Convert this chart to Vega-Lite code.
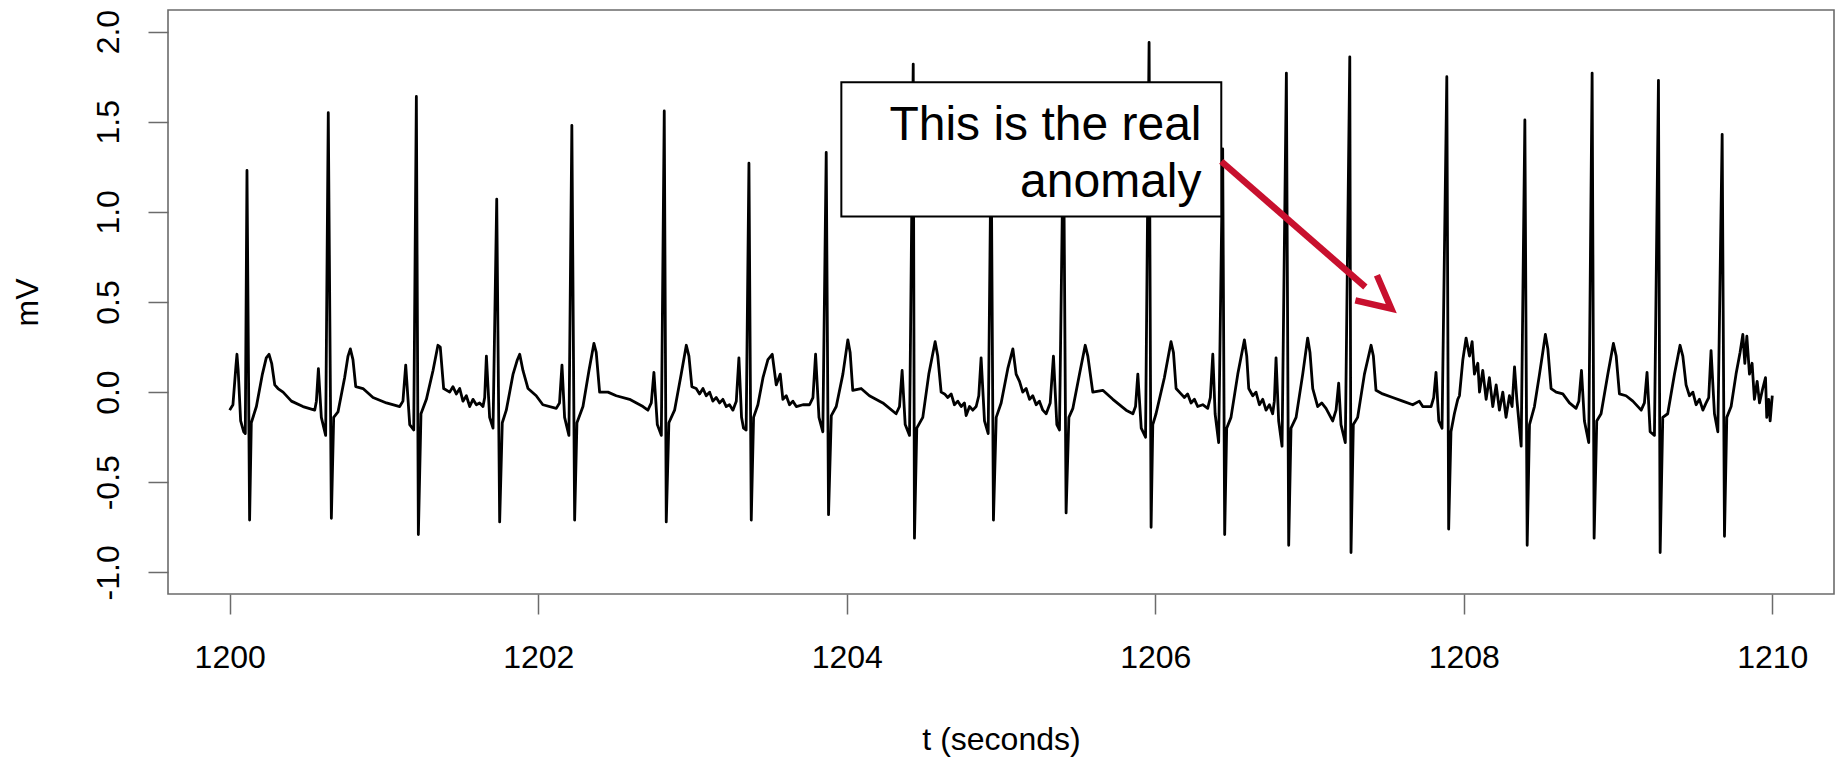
{
  "$schema": "https://vega.github.io/schema/vega-lite/v6.json",
  "width": 1666,
  "height": 584,
  "autosize": {"type": "none"},
  "padding": {"left": 168, "top": 10, "right": 7, "bottom": 165},
  "background": "white",
  "config": {
    "view": {"stroke": "#6b6b6b", "strokeWidth": 1.6},
    "font": "Liberation Sans"
  },
  "datasets": {
    "ecg": [
      {"t":1200.000,"v":-0.10},{"t":1200.021,"v":-0.07},{"t":1200.040,"v":0.14},{"t":1200.047,"v":0.21},{"t":1200.055,"v":0.12},{"t":1200.071,"v":-0.16},{"t":1200.091,"v":-0.22},{"t":1200.101,"v":-0.23},{"t":1200.112,"v":1.23},{"t":1200.129,"v":-0.71},{"t":1200.140,"v":-0.17},{"t":1200.173,"v":-0.08},{"t":1200.212,"v":0.10},{"t":1200.237,"v":0.19},{"t":1200.255,"v":0.21},{"t":1200.272,"v":0.16},{"t":1200.292,"v":0.04},{"t":1200.313,"v":0.02},{"t":1200.346,"v":0.0},{"t":1200.400,"v":-0.05},{"t":1200.475,"v":-0.08},{"t":1200.551,"v":-0.10},
      {"t":1200.562,"v":-0.05},{"t":1200.575,"v":0.13},{"t":1200.594,"v":-0.14},{"t":1200.622,"v":-0.24},{"t":1200.639,"v":1.55},{"t":1200.659,"v":-0.70},{"t":1200.674,"v":-0.14},{"t":1200.702,"v":-0.11},{"t":1200.745,"v":0.08},{"t":1200.767,"v":0.20},{"t":1200.782,"v":0.24},{"t":1200.799,"v":0.18},{"t":1200.817,"v":0.03},{"t":1200.864,"v":0.02},{"t":1200.929,"v":-0.03},{"t":1201.016,"v":-0.06},{"t":1201.102,"v":-0.08},
      {"t":1201.123,"v":-0.05},{"t":1201.141,"v":0.15},{"t":1201.167,"v":-0.18},{"t":1201.193,"v":-0.21},{"t":1201.210,"v":1.64},{"t":1201.223,"v":-0.79},{"t":1201.240,"v":-0.12},{"t":1201.275,"v":-0.04},{"t":1201.318,"v":0.12},{"t":1201.350,"v":0.26},{"t":1201.365,"v":0.25},{"t":1201.387,"v":0.02},{"t":1201.426,"v":0.0},{"t":1201.447,"v":0.03},{"t":1201.469,"v":-0.01},{"t":1201.491,"v":0.02},{"t":1201.512,"v":-0.05},{"t":1201.534,"v":-0.02},{"t":1201.556,"v":-0.08},{"t":1201.577,"v":-0.04},{"t":1201.599,"v":-0.07},{"t":1201.620,"v":-0.06},{"t":1201.642,"v":-0.08},
      {"t":1201.653,"v":-0.03},{"t":1201.664,"v":0.20},{"t":1201.685,"v":-0.14},{"t":1201.707,"v":-0.20},{"t":1201.731,"v":1.07},{"t":1201.750,"v":-0.72},{"t":1201.767,"v":-0.17},{"t":1201.793,"v":-0.10},{"t":1201.837,"v":0.10},{"t":1201.865,"v":0.18},{"t":1201.880,"v":0.21},{"t":1201.901,"v":0.12},{"t":1201.934,"v":0.02},{"t":1201.987,"v":-0.02},{"t":1202.030,"v":-0.07},{"t":1202.117,"v":-0.09},
      {"t":1202.138,"v":-0.06},{"t":1202.154,"v":0.15},{"t":1202.171,"v":-0.14},{"t":1202.199,"v":-0.24},{"t":1202.218,"v":1.48},{"t":1202.236,"v":-0.71},{"t":1202.251,"v":-0.17},{"t":1202.290,"v":-0.08},{"t":1202.329,"v":0.12},{"t":1202.361,"v":0.27},{"t":1202.376,"v":0.22},{"t":1202.398,"v":0.0},{"t":1202.452,"v":0.0},{"t":1202.506,"v":-0.02},{"t":1202.592,"v":-0.04},{"t":1202.679,"v":-0.08},{"t":1202.711,"v":-0.10},
      {"t":1202.733,"v":-0.06},{"t":1202.750,"v":0.11},{"t":1202.772,"v":-0.18},{"t":1202.798,"v":-0.24},{"t":1202.817,"v":1.56},{"t":1202.830,"v":-0.72},{"t":1202.847,"v":-0.17},{"t":1202.884,"v":-0.10},{"t":1202.927,"v":0.10},{"t":1202.960,"v":0.26},{"t":1202.977,"v":0.20},{"t":1202.996,"v":0.03},{"t":1203.024,"v":0.02},{"t":1203.046,"v":-0.01},{"t":1203.068,"v":0.02},{"t":1203.089,"v":-0.02},{"t":1203.111,"v":0.0},{"t":1203.132,"v":-0.05},{"t":1203.154,"v":-0.03},{"t":1203.176,"v":-0.06},{"t":1203.197,"v":-0.04},{"t":1203.219,"v":-0.08},{"t":1203.240,"v":-0.07},{"t":1203.262,"v":-0.10},
      {"t":1203.284,"v":-0.05},{"t":1203.301,"v":0.19},{"t":1203.318,"v":-0.14},{"t":1203.331,"v":-0.20},{"t":1203.348,"v":-0.21},{"t":1203.366,"v":1.27},{"t":1203.381,"v":-0.71},{"t":1203.396,"v":-0.14},{"t":1203.424,"v":-0.07},{"t":1203.457,"v":0.08},{"t":1203.489,"v":0.18},{"t":1203.517,"v":0.21},{"t":1203.543,"v":0.04},{"t":1203.569,"v":0.10},{"t":1203.586,"v":-0.04},{"t":1203.608,"v":-0.02},{"t":1203.629,"v":-0.07},{"t":1203.651,"v":-0.05},{"t":1203.673,"v":-0.08},{"t":1203.716,"v":-0.07},{"t":1203.759,"v":-0.07},
      {"t":1203.781,"v":-0.03},{"t":1203.798,"v":0.21},{"t":1203.820,"v":-0.14},{"t":1203.845,"v":-0.22},{"t":1203.867,"v":1.33},{"t":1203.882,"v":-0.68},{"t":1203.900,"v":-0.13},{"t":1203.932,"v":-0.08},{"t":1203.975,"v":0.10},{"t":1204.007,"v":0.29},{"t":1204.022,"v":0.22},{"t":1204.039,"v":0.01},{"t":1204.093,"v":0.02},{"t":1204.147,"v":-0.02},{"t":1204.234,"v":-0.06},{"t":1204.320,"v":-0.12},
      {"t":1204.342,"v":-0.08},{"t":1204.359,"v":0.12},{"t":1204.379,"v":-0.18},{"t":1204.407,"v":-0.24},{"t":1204.431,"v":1.82},{"t":1204.439,"v":-0.81},{"t":1204.454,"v":-0.20},{"t":1204.493,"v":-0.14},{"t":1204.532,"v":0.10},{"t":1204.573,"v":0.28},{"t":1204.590,"v":0.20},{"t":1204.612,"v":0.0},{"t":1204.634,"v":-0.01},{"t":1204.655,"v":-0.03},{"t":1204.677,"v":-0.01},{"t":1204.698,"v":-0.07},{"t":1204.720,"v":-0.05},{"t":1204.742,"v":-0.08},{"t":1204.763,"v":-0.06},{"t":1204.774,"v":-0.13},{"t":1204.796,"v":-0.08},{"t":1204.817,"v":-0.10},{"t":1204.839,"v":-0.08},
      {"t":1204.856,"v":-0.02},{"t":1204.871,"v":0.19},{"t":1204.893,"v":-0.16},{"t":1204.917,"v":-0.23},{"t":1204.936,"v":1.40},{"t":1204.951,"v":-0.71},{"t":1204.969,"v":-0.14},{"t":1205.001,"v":-0.06},{"t":1205.044,"v":0.13},{"t":1205.077,"v":0.24},{"t":1205.098,"v":0.10},{"t":1205.120,"v":0.06},{"t":1205.141,"v":0.0},{"t":1205.163,"v":0.02},{"t":1205.185,"v":-0.04},{"t":1205.206,"v":-0.02},{"t":1205.228,"v":-0.07},{"t":1205.249,"v":-0.05},{"t":1205.271,"v":-0.10},{"t":1205.293,"v":-0.12},
      {"t":1205.319,"v":-0.06},{"t":1205.340,"v":0.20},{"t":1205.362,"v":-0.18},{"t":1205.379,"v":-0.21},{"t":1205.405,"v":1.50},{"t":1205.422,"v":-0.67},{"t":1205.440,"v":-0.14},{"t":1205.466,"v":-0.09},{"t":1205.509,"v":0.10},{"t":1205.546,"v":0.26},{"t":1205.563,"v":0.20},{"t":1205.595,"v":0.0},{"t":1205.660,"v":0.01},{"t":1205.725,"v":-0.04},{"t":1205.811,"v":-0.10},{"t":1205.855,"v":-0.12},
      {"t":1205.872,"v":-0.08},{"t":1205.887,"v":0.10},{"t":1205.909,"v":-0.20},{"t":1205.937,"v":-0.25},{"t":1205.960,"v":1.94},{"t":1205.973,"v":-0.75},{"t":1205.984,"v":-0.18},{"t":1206.005,"v":-0.12},{"t":1206.059,"v":0.08},{"t":1206.102,"v":0.28},{"t":1206.118,"v":0.22},{"t":1206.135,"v":0.02},{"t":1206.167,"v":-0.01},{"t":1206.189,"v":-0.03},{"t":1206.210,"v":-0.01},{"t":1206.232,"v":-0.06},{"t":1206.254,"v":-0.04},{"t":1206.275,"v":-0.08},{"t":1206.308,"v":-0.07},{"t":1206.340,"v":-0.09},
      {"t":1206.357,"v":-0.03},{"t":1206.373,"v":0.21},{"t":1206.388,"v":-0.12},{"t":1206.411,"v":-0.28},{"t":1206.437,"v":1.35},{"t":1206.450,"v":-0.79},{"t":1206.463,"v":-0.20},{"t":1206.491,"v":-0.14},{"t":1206.535,"v":0.10},{"t":1206.578,"v":0.29},{"t":1206.593,"v":0.20},{"t":1206.606,"v":0.02},{"t":1206.632,"v":-0.02},{"t":1206.653,"v":0.0},{"t":1206.675,"v":-0.07},{"t":1206.697,"v":-0.04},{"t":1206.718,"v":-0.10},{"t":1206.740,"v":-0.07},{"t":1206.761,"v":-0.12},
      {"t":1206.772,"v":-0.05},{"t":1206.783,"v":0.19},{"t":1206.800,"v":-0.16},{"t":1206.822,"v":-0.30},{"t":1206.850,"v":1.77},{"t":1206.865,"v":-0.85},{"t":1206.880,"v":-0.20},{"t":1206.913,"v":-0.14},{"t":1206.956,"v":0.10},{"t":1206.988,"v":0.30},{"t":1207.003,"v":0.22},{"t":1207.021,"v":0.02},{"t":1207.053,"v":-0.08},{"t":1207.079,"v":-0.06},{"t":1207.107,"v":-0.09},{"t":1207.150,"v":-0.16},
      {"t":1207.172,"v":-0.10},{"t":1207.189,"v":0.05},{"t":1207.204,"v":-0.18},{"t":1207.232,"v":-0.28},{"t":1207.261,"v":1.86},{"t":1207.269,"v":-0.89},{"t":1207.284,"v":-0.18},{"t":1207.312,"v":-0.14},{"t":1207.356,"v":0.10},{"t":1207.399,"v":0.26},{"t":1207.414,"v":0.20},{"t":1207.431,"v":0.01},{"t":1207.474,"v":-0.01},{"t":1207.539,"v":-0.03},{"t":1207.604,"v":-0.05},{"t":1207.669,"v":-0.07},{"t":1207.712,"v":-0.05},{"t":1207.734,"v":-0.08},{"t":1207.788,"v":-0.08},
      {"t":1207.805,"v":-0.03},{"t":1207.820,"v":0.11},{"t":1207.838,"v":-0.16},{"t":1207.859,"v":-0.20},{"t":1207.890,"v":1.75},{"t":1207.902,"v":-0.76},{"t":1207.917,"v":-0.22},{"t":1207.939,"v":-0.12},{"t":1207.961,"v":-0.04},{"t":1207.972,"v":-0.02},{"t":1207.994,"v":0.18},{"t":1208.015,"v":0.30},{"t":1208.037,"v":0.20},{"t":1208.054,"v":0.28},{"t":1208.069,"v":0.10},{"t":1208.091,"v":0.16},{"t":1208.102,"v":0.0},{"t":1208.123,"v":0.12},{"t":1208.145,"v":-0.04},{"t":1208.166,"v":0.08},{"t":1208.188,"v":-0.08},{"t":1208.210,"v":0.04},{"t":1208.231,"v":-0.10},{"t":1208.253,"v":0.0},{"t":1208.274,"v":-0.14},{"t":1208.296,"v":-0.02},
      {"t":1208.313,"v":-0.08},{"t":1208.329,"v":0.14},{"t":1208.344,"v":-0.04},{"t":1208.372,"v":-0.30},{"t":1208.396,"v":1.51},{"t":1208.411,"v":-0.85},{"t":1208.426,"v":-0.18},{"t":1208.458,"v":-0.08},{"t":1208.491,"v":0.10},{"t":1208.512,"v":0.22},{"t":1208.529,"v":0.32},{"t":1208.545,"v":0.24},{"t":1208.566,"v":0.02},{"t":1208.599,"v":0.0},{"t":1208.642,"v":-0.01},{"t":1208.685,"v":-0.06},{"t":1208.728,"v":-0.09},
      {"t":1208.746,"v":-0.05},{"t":1208.763,"v":0.12},{"t":1208.782,"v":-0.16},{"t":1208.810,"v":-0.28},{"t":1208.832,"v":1.77},{"t":1208.845,"v":-0.81},{"t":1208.862,"v":-0.16},{"t":1208.890,"v":-0.12},{"t":1208.934,"v":0.10},{"t":1208.970,"v":0.27},{"t":1208.988,"v":0.20},{"t":1209.009,"v":-0.01},{"t":1209.052,"v":-0.02},{"t":1209.096,"v":-0.05},{"t":1209.150,"v":-0.10},
      {"t":1209.171,"v":-0.06},{"t":1209.188,"v":0.11},{"t":1209.208,"v":-0.22},{"t":1209.236,"v":-0.24},{"t":1209.262,"v":1.73},{"t":1209.273,"v":-0.89},{"t":1209.290,"v":-0.14},{"t":1209.322,"v":-0.12},{"t":1209.366,"v":0.10},{"t":1209.402,"v":0.26},{"t":1209.420,"v":0.20},{"t":1209.441,"v":0.04},{"t":1209.463,"v":-0.02},{"t":1209.485,"v":0.0},{"t":1209.506,"v":-0.07},{"t":1209.528,"v":-0.04},{"t":1209.550,"v":-0.10},{"t":1209.571,"v":-0.06},
      {"t":1209.588,"v":-0.03},{"t":1209.603,"v":0.23},{"t":1209.625,"v":-0.12},{"t":1209.647,"v":-0.22},{"t":1209.675,"v":1.43},{"t":1209.690,"v":-0.80},{"t":1209.705,"v":-0.14},{"t":1209.733,"v":-0.08},{"t":1209.765,"v":0.10},{"t":1209.791,"v":0.22},{"t":1209.809,"v":0.32},{"t":1209.822,"v":0.16},{"t":1209.835,"v":0.31},{"t":1209.852,"v":0.10},{"t":1209.869,"v":0.16},{"t":1209.884,"v":-0.04},{"t":1209.902,"v":0.06},{"t":1209.917,"v":-0.06},{"t":1209.938,"v":0.02},{"t":1209.956,"v":0.08},{"t":1209.964,"v":-0.14},{"t":1209.977,"v":-0.04},{"t":1209.986,"v":-0.16},{"t":1210.000,"v":-0.02}
    ],
    "box": [{"t": 1203.965, "t2": 1206.428, "v": 0.974, "v2": 1.719}],
    "label": [
      {"t": 1206.30, "v": 1.398, "text": "This is the real"},
      {"t": 1206.30, "v": 1.083, "text": "anomaly"}
    ],
    "shaft": [{"t": 1206.428, "v": 1.280}, {"t": 1207.362, "v": 0.583}],
    "head": [
      {"k": 1, "t": 1207.437, "v": 0.648},
      {"k": 2, "t": 1207.530, "v": 0.463},
      {"k": 3, "t": 1207.297, "v": 0.509}
    ]
  },
  "layer": [
    {
      "data": {"name": "ecg"},
      "mark": {"type": "line", "color": "black", "strokeWidth": 2.8, "strokeJoin": "round"},
      "encoding": {
        "x": {
          "field": "t", "type": "quantitative",
          "scale": {"domain": [1199.6, 1210.4], "nice": false, "zero": false},
          "axis": {
            "values": [1200, 1202, 1204, 1206, 1208, 1210],
            "format": "d",
            "domain": false, "grid": false,
            "tickSize": 20, "tickColor": "#6b6b6b", "tickWidth": 1.5,
            "labelFont": "Liberation Sans", "labelFontSize": 32, "labelColor": "black",
            "labelPadding": 28, "labelFlush": false, "labelOverlap": false,
            "title": "t (seconds)", "titleFont": "Liberation Sans", "titleFontSize": 32,
            "titleFontWeight": "normal", "titleColor": "black",
            "titleY": 155, "titleBaseline": "alphabetic"
          }
        },
        "y": {
          "field": "v", "type": "quantitative",
          "scale": {"domain": [-1.12, 2.12], "nice": false, "zero": false},
          "axis": {
            "values": [-1, -0.5, 0, 0.5, 1, 1.5, 2],
            "labelExpr": "replace(format(datum.value, '.1f'), '\u2212', '-')",
            "domain": false, "grid": false,
            "tickSize": 20, "tickColor": "#6b6b6b", "tickWidth": 1.5,
            "labelFont": "Liberation Sans", "labelFontSize": 32, "labelColor": "black",
            "labelAngle": 270, "labelAlign": "center", "labelBaseline": "alphabetic",
            "labelPadding": 30, "labelFlush": false, "labelOverlap": false,
            "title": "mV", "titleFont": "Liberation Sans", "titleFontSize": 32,
            "titleFontWeight": "normal", "titleColor": "black",
            "titleAngle": 270, "titleAlign": "center", "titleBaseline": "alphabetic",
            "titleX": -131, "titleY": 292
          }
        }
      }
    },
    {
      "data": {"name": "box"},
      "mark": {"type": "rect", "fill": "white", "stroke": "black", "strokeWidth": 2},
      "encoding": {
        "x": {"field": "t", "type": "quantitative"},
        "x2": {"field": "t2"},
        "y": {"field": "v", "type": "quantitative"},
        "y2": {"field": "v2"}
      }
    },
    {
      "data": {"name": "label"},
      "mark": {"type": "text", "align": "right", "baseline": "alphabetic", "font": "Liberation Sans", "fontSize": 48, "color": "black"},
      "encoding": {
        "x": {"field": "t", "type": "quantitative"},
        "y": {"field": "v", "type": "quantitative"},
        "text": {"field": "text"}
      }
    },
    {
      "data": {"name": "shaft"},
      "mark": {"type": "line", "color": "#C8102E", "strokeWidth": 6.5, "strokeCap": "butt"},
      "encoding": {
        "x": {"field": "t", "type": "quantitative"},
        "y": {"field": "v", "type": "quantitative"}
      }
    },
    {
      "data": {"name": "head"},
      "mark": {"type": "line", "color": "#C8102E", "strokeWidth": 6.5, "strokeCap": "butt", "strokeJoin": "miter"},
      "encoding": {
        "x": {"field": "t", "type": "quantitative"},
        "y": {"field": "v", "type": "quantitative"},
        "order": {"field": "k", "type": "quantitative"}
      }
    }
  ]
}
